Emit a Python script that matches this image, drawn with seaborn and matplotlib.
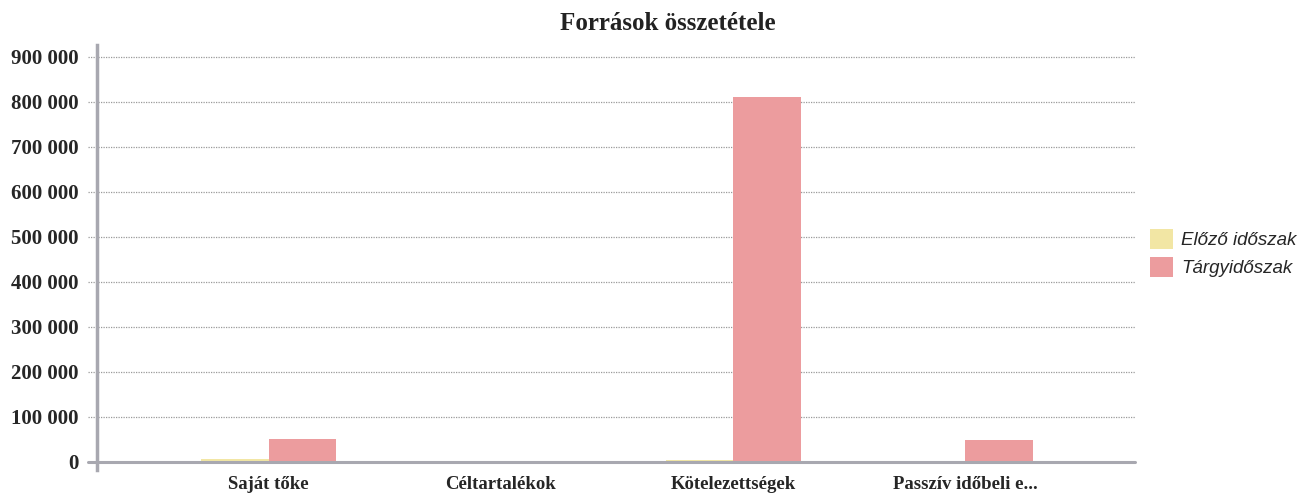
import matplotlib
matplotlib.use("Agg")
import matplotlib.pyplot as plt
import seaborn as sns
import pandas as pd
from matplotlib.ticker import FuncFormatter

categories = ["Saját tőke", "Céltartalékok", "Kötelezettségek", "Passzív időbeli e..."]
series_names = ["Előző időszak", "Tárgyidőszak"]
prev_values = [6000, 0, 5000, 0]
curr_values = [51000, 0, 811000, 49000]
y_ticks = [0, 100000, 200000, 300000, 400000, 500000, 600000, 700000, 800000, 900000]
colors = ["#f2e6a4", "#ec9c9e"]

df = pd.DataFrame({
    "cat": categories * 2,
    "series": [series_names[0]] * len(categories) + [series_names[1]] * len(categories),
    "value": prev_values + curr_values,
})

sns.set_theme(style="white")
plt.rcParams['font.family'] = ['Liberation Serif', 'DejaVu Serif']

fig = plt.figure(figsize=(13.09, 4.94), dpi=100)
ax = fig.add_axes([0.074, 0.0486, 0.793, 0.8604])

sns.barplot(data=df, x="cat", y="value", hue="series", order=categories,
            hue_order=series_names, palette=colors, width=0.58, gap=0,
            saturation=1, ax=ax, linewidth=0)

ax.set_xlim(-0.74, 3.73)
ax.set_ylim(-18000, 926000)
ax.set_yticks(y_ticks)
ax.yaxis.set_major_formatter(FuncFormatter(lambda v, p: f"{int(v):,}".replace(",", " ")))
for lab in ax.get_yticklabels():
    lab.set_fontweight("bold")
    lab.set_fontsize(15)
ax.tick_params(axis="y", length=0, pad=13)
ax.tick_params(axis="x", length=0, pad=4)
for lab in ax.get_xticklabels():
    lab.set_fontweight("bold")
    lab.set_fontsize(13.5)
ax.set_xlabel("")
ax.set_ylabel("")

for t in y_ticks[1:]:
    ax.plot([-0.78, 3.73], [t, t], color="#9a9a9a", linestyle=(0, (1, 1)), linewidth=0.9,
            clip_on=False, zorder=0)
ax.plot([-0.78, 3.73], [0, 0], color="#a8a8b0", linewidth=2.2, clip_on=False, zorder=3)

for s in ["top", "right", "bottom"]:
    ax.spines[s].set_visible(False)
ax.spines["left"].set_color("#a8a8b0")
ax.spines["left"].set_linewidth(2.5)

fig.text(0.510, 0.952, "Források összetétele", fontsize=18, fontweight="bold",
         ha="center", va="center", color="#222222")

leg = ax.legend(loc="center left", bbox_to_anchor=(1150 / 1309, 1 - 253 / 494),
                bbox_transform=fig.transFigure, borderaxespad=0, borderpad=0,
                frameon=False,
                prop={"family": "Liberation Sans", "style": "italic", "size": 13.5},
                handlelength=1.25, handleheight=1.3, handletextpad=0.4, labelspacing=0.4)

fig.savefig("out.png", dpi=100)
